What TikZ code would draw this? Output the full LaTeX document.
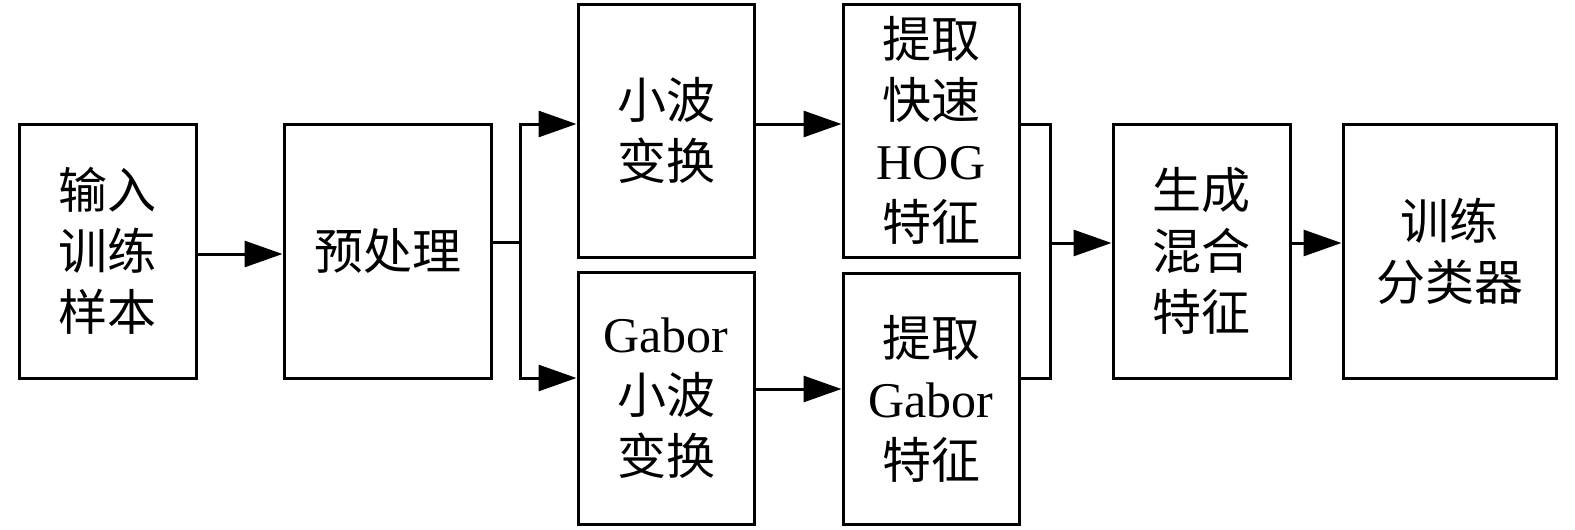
\documentclass[tikz,border=0pt]{standalone}
\usepackage{fontspec}
\setmainfont{Liberation Serif}
\newfontfamily\cjk{Noto Sans CJK SC}[Scale=0.98]
\usetikzlibrary{arrows.meta}
\begin{document}
\begin{tikzpicture}[x=1pt,y=-1pt,
  box/.style={draw,line width=3pt,inner sep=0pt,minimum width=176pt,minimum height=253pt,
    align=center,font=\fontsize{50}{61}\selectfont},
  conn/.style={line width=3pt},
  arr/.style={conn,-{Triangle[length=38pt,width=26pt]}}]
\useasboundingbox (0,0) rectangle (1575,530);
\node[box,minimum width=177pt,minimum height=254pt] (b1) at (107.5,251) {{\cjk 输入}\\{\cjk 训练}\\{\cjk 样本}};
\node[box,minimum width=207pt,minimum height=254pt] (b2) at (387.5,251) {{\cjk 预处理}};
\node[box] (b3) at (666,130.5) {{\cjk 小波}\\{\cjk 变换}};
\node[box,minimum height=252pt] (b4) at (666,398) {Gabor\\{\cjk 小波}\\{\cjk 变换}};
\node[box] (b5) at (931,130.5) {{\cjk 提取}\\{\cjk 快速}\\HOG\\{\cjk 特征}};
\node[box,minimum height=251pt] (b6) at (931,398.5) {{\cjk 提取}\\Gabor\\{\cjk 特征}};
\node[box,minimum width=177pt,minimum height=254pt] (b7) at (1201.5,251) {{\cjk 生成}\\{\cjk 混合}\\{\cjk 特征}};
\node[box,minimum width=213pt,minimum height=254pt] (b8) at (1449.5,251) {{\cjk 训练}\\{\cjk 分类器}};
% b1 -> b2
\draw[arr] ([yshift=-3pt]b1.east) -- ([yshift=-3pt]b2.west);
% split
\coordinate (j1) at (520,242);
\draw[conn] ([yshift=9pt]b2.east) -- (j1);
\draw[arr] (j1) |- ([yshift=6.5pt]b3.west);
\draw[arr] (j1) |- ([yshift=20pt]b4.west);
% b3 -> b5, b4 -> b6
\draw[arr] ([yshift=6.5pt]b3.east) -- ([yshift=6.5pt]b5.west);
\draw[arr] ([yshift=9pt]b4.east) -- ([yshift=9.5pt]b6.west);
% merge
\coordinate (j2) at (1050,243);
\draw[conn] ([yshift=6.5pt]b5.east) -| (j2);
\draw[conn] ([yshift=20.5pt]b6.east) -| (j2);
\draw[arr] (j2) -- ([yshift=8pt]b7.west);
% b7 -> b8
\draw[arr] ([yshift=8pt]b7.east) -- ([yshift=8pt]b8.west);
\end{tikzpicture}
\end{document}
